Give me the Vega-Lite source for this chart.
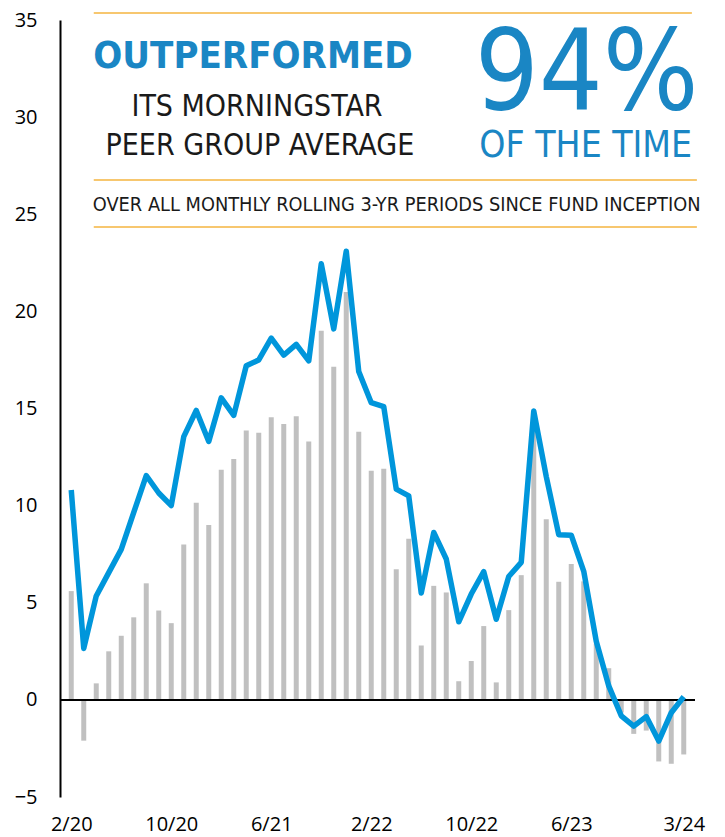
{
  "$schema": "https://vega.github.io/schema/vega-lite/v6.json",
  "autosize": {"type": "none"},
  "padding": {"left": 60, "top": 20, "right": 30, "bottom": 40},
  "width": 635,
  "height": 777,
  "config": {"view": {"stroke": null}, "font": "Open Sans"},
  "datasets": {
    "main": [
      {"i": 0, "month": "2/20", "relative": 5.6, "fund": 10.8},
      {"i": 1, "month": "3/20", "relative": -2.1, "fund": 2.65},
      {"i": 2, "month": "4/20", "relative": 0.85, "fund": 5.35},
      {"i": 3, "month": "5/20", "relative": 2.5, "fund": 6.55},
      {"i": 4, "month": "6/20", "relative": 3.3, "fund": 7.75},
      {"i": 5, "month": "7/20", "relative": 4.25, "fund": 9.65},
      {"i": 6, "month": "8/20", "relative": 6.0, "fund": 11.55},
      {"i": 7, "month": "9/20", "relative": 4.6, "fund": 10.65},
      {"i": 8, "month": "10/20", "relative": 3.95, "fund": 10.0},
      {"i": 9, "month": "11/20", "relative": 8.0, "fund": 13.55},
      {"i": 10, "month": "12/20", "relative": 10.15, "fund": 14.9},
      {"i": 11, "month": "1/21", "relative": 9.0, "fund": 13.3},
      {"i": 12, "month": "2/21", "relative": 11.85, "fund": 15.55},
      {"i": 13, "month": "3/21", "relative": 12.4, "fund": 14.65},
      {"i": 14, "month": "4/21", "relative": 13.87, "fund": 17.2},
      {"i": 15, "month": "5/21", "relative": 13.75, "fund": 17.5},
      {"i": 16, "month": "6/21", "relative": 14.55, "fund": 18.62},
      {"i": 17, "month": "7/21", "relative": 14.2, "fund": 17.75},
      {"i": 18, "month": "8/21", "relative": 14.6, "fund": 18.3},
      {"i": 19, "month": "9/21", "relative": 13.3, "fund": 17.45},
      {"i": 20, "month": "10/21", "relative": 19.0, "fund": 22.45},
      {"i": 21, "month": "11/21", "relative": 17.15, "fund": 19.1},
      {"i": 22, "month": "12/21", "relative": 21.0, "fund": 23.1},
      {"i": 23, "month": "1/22", "relative": 13.8, "fund": 16.9},
      {"i": 24, "month": "2/22", "relative": 11.8, "fund": 15.3},
      {"i": 25, "month": "3/22", "relative": 11.9, "fund": 15.1},
      {"i": 26, "month": "4/22", "relative": 6.73, "fund": 10.85},
      {"i": 27, "month": "5/22", "relative": 8.3, "fund": 10.5},
      {"i": 28, "month": "6/22", "relative": 2.8, "fund": 5.5},
      {"i": 29, "month": "7/22", "relative": 5.87, "fund": 8.62},
      {"i": 30, "month": "8/22", "relative": 5.53, "fund": 7.25},
      {"i": 31, "month": "9/22", "relative": 0.96, "fund": 4.02},
      {"i": 32, "month": "10/22", "relative": 2.0, "fund": 5.45},
      {"i": 33, "month": "11/22", "relative": 3.8, "fund": 6.6},
      {"i": 34, "month": "12/22", "relative": 0.9, "fund": 4.15},
      {"i": 35, "month": "1/23", "relative": 4.62, "fund": 6.35},
      {"i": 36, "month": "2/23", "relative": 6.42, "fund": 7.08},
      {"i": 37, "month": "3/23", "relative": 13.9, "fund": 14.87},
      {"i": 38, "month": "4/23", "relative": 9.3, "fund": 11.5},
      {"i": 39, "month": "5/23", "relative": 6.08, "fund": 8.5},
      {"i": 40, "month": "6/23", "relative": 7.0, "fund": 8.48},
      {"i": 41, "month": "7/23", "relative": 6.1, "fund": 6.62},
      {"i": 42, "month": "8/23", "relative": 2.9, "fund": 3.02},
      {"i": 43, "month": "9/23", "relative": 1.63, "fund": 0.72},
      {"i": 44, "month": "10/23", "relative": -0.65, "fund": -0.82},
      {"i": 45, "month": "11/23", "relative": -1.75, "fund": -1.35},
      {"i": 46, "month": "12/23", "relative": -1.58, "fund": -0.86},
      {"i": 47, "month": "1/24", "relative": -3.17, "fund": -2.12},
      {"i": 48, "month": "2/24", "relative": -3.29, "fund": -0.66},
      {"i": 49, "month": "3/24", "relative": -2.81, "fund": 0.16}
    ],
    "rules": [
      {"x": 1.8, "x2": 49.65, "y": 35.36},
      {"x": 1.8, "x2": 50.05, "y": 26.76},
      {"x": 1.8, "x2": 50.05, "y": 24.34}
    ],
    "headline": [{"label": "OUTPERFORMED", "x": 14.54, "y": 33.09}],
    "sub": [
      {"label": "ITS MORNINGSTAR", "x": 14.86, "y": 30.52},
      {"label": "PEER GROUP AVERAGE", "x": 15.09, "y": 28.51}
    ],
    "big": [{"label": "94%", "x": 41.23, "y": 32.15}],
    "time": [{"label": "OF THE TIME", "x": 41.16, "y": 28.51}],
    "note": [{"label": "OVER ALL MONTHLY ROLLING 3-YR PERIODS SINCE FUND INCEPTION", "x": 26.03, "y": 25.48}]
  },
  "layer": [
    {
      "data": {"name": "main"},
      "mark": {"type": "bar", "size": 5, "color": "#C0C0C0"},
      "encoding": {
        "x": {
          "field": "i", "type": "quantitative",
          "scale": {"domain": [-0.5, 49.5], "nice": false, "zero": false},
          "axis": {
            "title": null, "domain": false, "ticks": false, "grid": false,
            "values": [0, 8, 16, 24, 32, 40, 49],
            "labelExpr": "['2/20','10/20','6/21','2/22','10/22','6/23','3/24'][indexof([0,8,16,24,32,40,49], datum.value)]",
            "labelFontSize": 20, "labelColor": "#000000", "labelPadding": 17, "labelFont": "Open Sans"
          }
        },
        "y": {
          "field": "relative", "type": "quantitative",
          "scale": {"domain": [-5, 35], "nice": false},
          "axis": {
            "title": null, "grid": false, "ticks": false,
            "values": [-5, 0, 5, 10, 15, 20, 25, 30, 35],
            "domainColor": "#000000", "domainWidth": 2,
            "labelFontSize": 20, "labelColor": "#000000", "labelPadding": 23, "labelFont": "Open Sans"
          }
        }
      }
    },
    {
      "data": {"name": "main"},
      "mark": {"type": "rule", "color": "#000000", "strokeWidth": 1.3},
      "encoding": {"y": {"datum": 0}}
    },
    {
      "data": {"name": "main"},
      "mark": {"type": "line", "color": "#0096DB", "strokeWidth": 5.5, "strokeJoin": "round"},
      "encoding": {
        "x": {"field": "i", "type": "quantitative"},
        "y": {"field": "fund", "type": "quantitative"}
      }
    },
    {
      "data": {"name": "rules"},
      "mark": {"type": "rule", "color": "#F5B53F", "strokeWidth": 1.5},
      "encoding": {
        "x": {"field": "x", "type": "quantitative"},
        "x2": {"field": "x2"},
        "y": {"field": "y", "type": "quantitative"}
      }
    },
    {
      "data": {"name": "headline"},
      "mark": {"type": "text", "font": "DejaVu Sans Condensed", "fontWeight": "bold", "fontSize": 38, "color": "#1A86C4", "align": "center", "baseline": "middle"},
      "encoding": {
        "x": {"field": "x", "type": "quantitative"},
        "y": {"field": "y", "type": "quantitative"},
        "text": {"field": "label"}
      }
    },
    {
      "data": {"name": "sub"},
      "mark": {"type": "text", "font": "DejaVu Sans Condensed", "fontSize": 30, "color": "#1a1a1a", "align": "center", "baseline": "middle"},
      "encoding": {
        "x": {"field": "x", "type": "quantitative"},
        "y": {"field": "y", "type": "quantitative"},
        "text": {"field": "label"}
      }
    },
    {
      "data": {"name": "big"},
      "mark": {"type": "text", "font": "DejaVu Sans Condensed", "fontSize": 112, "color": "#1A86C4", "align": "center", "baseline": "middle"},
      "encoding": {
        "x": {"field": "x", "type": "quantitative"},
        "y": {"field": "y", "type": "quantitative"},
        "text": {"field": "label"}
      }
    },
    {
      "data": {"name": "time"},
      "mark": {"type": "text", "font": "DejaVu Sans Condensed", "fontSize": 37, "color": "#1A86C4", "align": "center", "baseline": "middle"},
      "encoding": {
        "x": {"field": "x", "type": "quantitative"},
        "y": {"field": "y", "type": "quantitative"},
        "text": {"field": "label"}
      }
    },
    {
      "data": {"name": "note"},
      "mark": {"type": "text", "font": "DejaVu Sans Condensed", "fontSize": 19.8, "color": "#1a1a1a", "align": "center", "baseline": "middle"},
      "encoding": {
        "x": {"field": "x", "type": "quantitative"},
        "y": {"field": "y", "type": "quantitative"},
        "text": {"field": "label"}
      }
    }
  ]
}
